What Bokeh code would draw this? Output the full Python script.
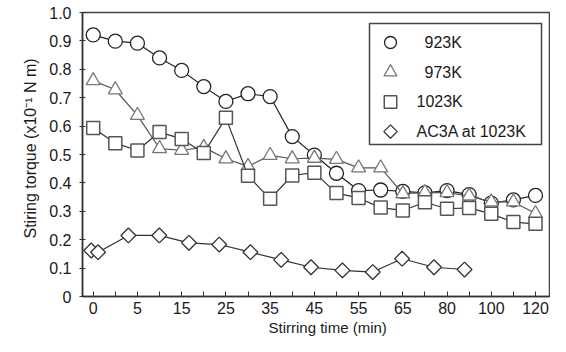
from bokeh.plotting import figure
from bokeh.models import Range1d, FixedTicker, Title
from bokeh.core.properties import value
from bokeh.embed import file_html
from bokeh.resources import INLINE
import numpy as np

# category positions (0..20) and their labels
cat_pos = list(range(21))
tick_labels = ["0", "", "5", "", "15", "", "25", "", "35", "", "45", "",
               "55", "", "65", "", "80", "", "100", "", "120"]

t923 = [0.921, 0.899, 0.892, 0.840, 0.796, 0.739, 0.687, 0.714, 0.704, 0.563, 0.498,
        0.434, 0.373, 0.375, 0.370, 0.365, 0.373, 0.359, 0.329, 0.340, 0.356]
t973 = [0.760, 0.728, 0.638, 0.521, 0.515, 0.525, 0.485, 0.458, 0.497, 0.485, 0.487,
        0.483, 0.453, 0.453, 0.362, 0.366, 0.366, 0.354, 0.333, 0.333, 0.292]
t1023 = [0.593, 0.540, 0.514, 0.579, 0.555, 0.505, 0.629, 0.425, 0.344, 0.426, 0.436,
         0.364, 0.347, 0.313, 0.303, 0.332, 0.309, 0.312, 0.291, 0.262, 0.256]
ac3a_pos = [-0.09, 0.22, 1.59, 2.99, 4.33, 5.70, 7.11, 8.50, 9.85, 11.27, 12.64, 13.97, 15.41, 16.79]
ac3a = [0.162, 0.156, 0.215, 0.215, 0.189, 0.183, 0.156, 0.129, 0.103, 0.092, 0.086, 0.133, 0.103, 0.095]

legend_labels = ["\u2002923K", "\u2002973K", "1023K", "AC3A at 1023K"]

y_ticks = [0, 0.1, 0.2, 0.3, 0.4, 0.5, 0.6, 0.7, 0.8, 0.9, 1.0]

FONT = "Liberation Sans"
W, H = 550, 336
BL, BR, BT, BB = 82, 1, 12, 40
FW, FH = W - BL - BR, H - BT - BB      # plot-frame size in px

p = figure(width=W, height=H, output_backend="svg", toolbar_location=None,
           x_range=Range1d(-0.484, 20.633), y_range=Range1d(0, 1.0),
           min_border_left=BL, min_border_right=BR, min_border_top=BT, min_border_bottom=BB)
# pixel ranges used only to place the legend box inside the frame
p.extra_x_ranges = {"px": Range1d(0, FW)}
p.extra_y_ranges = {"px": Range1d(0, FH)}

p.xgrid.visible = False
p.ygrid.visible = False
p.outline_line_color = "#444444"
p.outline_line_width = 1.5
p.background_fill_color = "white"
p.border_fill_color = "white"

# x axis
p.xaxis.ticker = FixedTicker(ticks=cat_pos)
p.xaxis.major_label_overrides = {i: lab for i, lab in zip(cat_pos, tick_labels)}
p.xaxis.minor_tick_line_color = None
p.xaxis.major_tick_in = 5
p.xaxis.major_tick_out = 0
p.xaxis.major_label_standoff = 5

xt = Title(text="Stirring time (min)", align="left", offset=186, standoff=0,
           text_font=FONT, text_font_size="15px", text_font_style="normal",
           text_color="#1a1a1a")
p.add_layout(xt, "below")

# y axis
p.yaxis.ticker = FixedTicker(ticks=y_ticks)
p.yaxis.major_label_overrides = {0: "0", 1: "1.0"}
p.yaxis.minor_tick_line_color = None
p.yaxis.major_tick_in = 3
p.yaxis.major_tick_out = 3
p.yaxis.major_label_standoff = 8

yt = Title(text="Stiring torque (x10\u207b\u00b9 N m)", align="left", offset=58, standoff=16,
           text_font=FONT, text_font_size="16px", text_font_style="normal",
           text_color="#1a1a1a")
p.add_layout(yt, "left")

for ax in (p.xaxis, p.yaxis):
    ax.axis_line_color = "#333333"
    ax.axis_line_width = 1.5
    ax.major_tick_line_color = "#333333"
    ax.major_tick_line_width = 1
    ax.major_label_text_font = FONT
    ax.major_label_text_font_size = "16px"
    ax.major_label_text_color = "#1a1a1a"

# series
styles = [
    dict(marker="circle", size=14, line_color="#222222", line_width=1.3),
    dict(marker="triangle", size=14, line_color="#777777", line_width=1.3),
    dict(marker="square", size=13, line_color="#555555", line_width=1.5),
    dict(marker="square", angle=np.pi / 4, size=10.5, line_color="#333333", line_width=1.3),
]
line_colors = ["#222222", "#555555", "#333333", "#333333"]
series = [(cat_pos, t923), (cat_pos, t973), (cat_pos, t1023), (ac3a_pos, ac3a)]
for (xs, ys), st, lc in zip(series, styles, line_colors):
    p.line(xs, ys, line_color=lc, line_width=1.2)
    p.scatter(xs, ys, fill_color="white", **st)

# legend box (in frame pixels, origin at the frame's bottom-left)
box_l, box_r, box_t, box_b = 287, 459, 273, 152
p.quad(left=[box_l], right=[box_r], top=[box_t], bottom=[box_b],
       x_range_name="px", y_range_name="px",
       fill_color="white", line_color="#444444", line_width=1.5)
row_y = [box_t - 19 - 29.7 * k for k in range(4)]
key_x = box_l + 21
key_sizes = [12, 13, 12.5, 9.5]
for k, st in enumerate(styles):
    st2 = dict(st)
    st2["size"] = key_sizes[k]
    p.scatter([key_x], [row_y[k]], x_range_name="px", y_range_name="px",
              fill_color="white", **st2)
p.text(x=[box_l + 47] * 4, y=row_y, text=legend_labels,
       x_range_name="px", y_range_name="px",
       text_font=value(FONT), text_font_size="16px", text_color="#1a1a1a",
       text_baseline="middle", text_align="left")

open("out.html", "w").write(file_html(p, INLINE))
